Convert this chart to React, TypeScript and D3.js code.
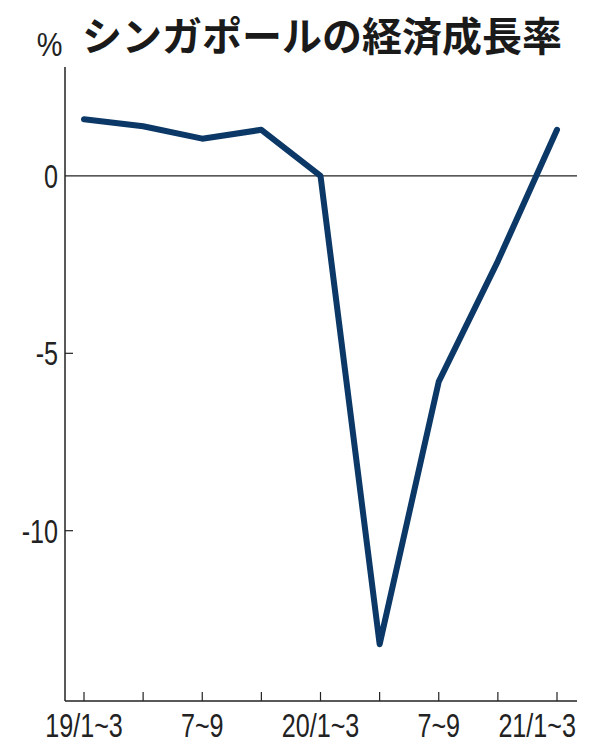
import React, { useEffect, useRef } from "react";
import * as d3 from "d3";

const quarters = ["19Q1", "19Q2", "19Q3", "19Q4", "20Q1", "20Q2", "20Q3", "20Q4", "21Q1"];
const growth = [1.6, 1.4, 1.05, 1.3, 0.0, -13.2, -5.8, -2.4, 1.3];
const xLabels = ["19/1~3", "", "7~9", "", "20/1~3", "", "7~9", "", "21/1~3"];
const yTicks = [0, -5, -10];
const title = "シンガポールの経済成長率";

export default function App() {
  const ref = useRef<SVGSVGElement>(null);

  useEffect(() => {
    const width = 596,
      height = 756;
    const left = 65,
      right = 577,
      top = 67,
      bottom = 701;

    const svg = d3.select(ref.current);
    svg.selectAll("*").remove();

    svg.append("rect").attr("width", width).attr("height", height).attr("fill", "#fff");

    const x = d3
      .scalePoint<string>()
      .domain(quarters)
      .range([84, 557]);

    const y = d3.scaleLinear().domain([-14.8, 3.07]).range([bottom, top]);

    // narrow look: Liberation Sans squeezed horizontally
    const tickFont = "'Liberation Sans', sans-serif";
    const squeeze = 0.74;

    // title
    svg
      .append("text")
      .attr("x", 322)
      .attr("y", 51)
      .attr("text-anchor", "middle")
      .attr("font-family", "'Noto Sans CJK JP', sans-serif")
      .attr("font-weight", 700)
      .attr("font-size", 40)
      .attr("fill", "#1a1a1a")
      .text(title);

    svg
      .append("text")
      .attr("transform", `translate(49.5,56) scale(0.85,1)`)
      .attr("text-anchor", "middle")
      .attr("font-family", tickFont)
      .attr("font-size", 34)
      .attr("fill", "#222")
      .text("%");

    // zero line
    svg
      .append("line")
      .attr("x1", left)
      .attr("x2", right)
      .attr("y1", y(0))
      .attr("y2", y(0))
      .attr("stroke", "#222")
      .attr("stroke-width", 1.2);

    // y axis
    const yAxis = svg.append("g").attr("transform", `translate(${left},0)`);
    yAxis
      .append("line")
      .attr("y1", top)
      .attr("y2", bottom)
      .attr("stroke", "#222")
      .attr("stroke-width", 1.5);
    yAxis
      .selectAll("line.tick")
      .data(yTicks.filter((d) => d !== 0))
      .join("line")
      .attr("class", "tick")
      .attr("x1", 0)
      .attr("x2", 8)
      .attr("y1", (d) => y(d))
      .attr("y2", (d) => y(d))
      .attr("stroke", "#222")
      .attr("stroke-width", 1.2);
    yAxis
      .selectAll("text")
      .data(yTicks)
      .join("text")
      .attr("transform", (d) => `translate(-7,${y(d) + 12}) scale(${squeeze},1)`)
      .attr("text-anchor", "end")
      .attr("font-family", tickFont)
      .attr("font-size", 34)
      .attr("fill", "#222")
      .text((d) => String(d));

    // x axis
    const xAxis = svg.append("g").attr("transform", `translate(0,${bottom})`);
    xAxis
      .append("line")
      .attr("x1", left)
      .attr("x2", right)
      .attr("stroke", "#222")
      .attr("stroke-width", 1.5);
    xAxis
      .selectAll("line.tick")
      .data(quarters)
      .join("line")
      .attr("class", "tick")
      .attr("x1", (d) => x(d)!)
      .attr("x2", (d) => x(d)!)
      .attr("y1", 0)
      .attr("y2", -9)
      .attr("stroke", "#222")
      .attr("stroke-width", 1.2);
    const last = quarters.length - 1;
    xAxis
      .selectAll("text")
      .data(quarters)
      .join("text")
      .attr("transform", (d, i) =>
        i === last ? `translate(576,36) scale(${squeeze},1)` : `translate(${x(d)},36) scale(${squeeze},1)`
      )
      .attr("text-anchor", (d, i) => (i === last ? "end" : "middle"))
      .attr("font-family", tickFont)
      .attr("font-size", 34)
      .attr("fill", "#222")
      .text((d, i) => xLabels[i]);

    const line = d3
      .line<number>()
      .x((d, i) => x(quarters[i])!)
      .y((d) => y(d));

    svg
      .append("path")
      .datum(growth)
      .attr("fill", "none")
      .attr("stroke", "#0b3866")
      .attr("stroke-width", 6)
      .attr("stroke-linejoin", "round")
      .attr("stroke-linecap", "round")
      .attr("d", line);
  }, []);

  return <svg ref={ref} width={596} height={756} style={{ display: "block", margin: "-8px" }} />;
}
